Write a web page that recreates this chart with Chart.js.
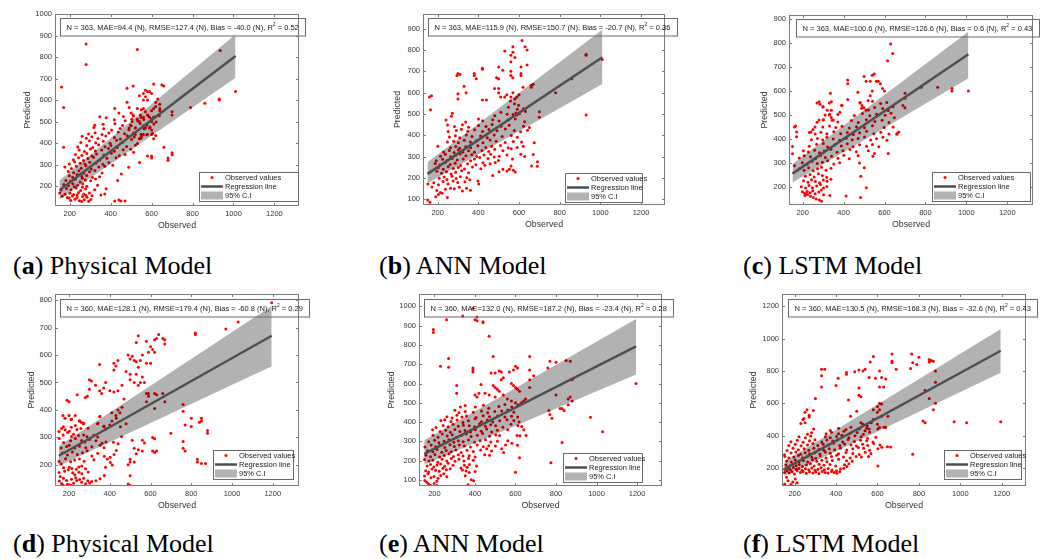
<!DOCTYPE html>
<html>
<head>
<meta charset="utf-8">
<script src="https://cdn.jsdelivr.net/npm/chart.js@4.4.1/dist/chart.umd.min.js"></script>
<style>
  body { margin: 0; background: #fff; width: 1046px; height: 559px; position: relative; overflow: hidden; }
  canvas { position: absolute; }
  .cap { position: absolute; font-family: "Liberation Serif", "Times New Roman", serif; font-size: 26px; line-height: 1; white-space: nowrap; color: #000; }
  .cap b { font-weight: bold; }
</style>
</head>
<body>
<div class="cap" style="left:13px;top:253px">(<b>a</b>) Physical Model</div>
<div class="cap" style="left:379px;top:253px">(<b>b</b>) ANN Model</div>
<div class="cap" style="left:743px;top:253px">(<b>c</b>) LSTM Model</div>
<div class="cap" style="left:13px;top:531px">(<b>d</b>) Physical Model</div>
<div class="cap" style="left:379px;top:531px">(<b>e</b>) ANN Model</div>
<div class="cap" style="left:743px;top:531px">(<b>f</b>) LSTM Model</div>
<script>
// ---- data ----
const xTicks = [200, 400, 600, 800, 1000, 1200];
const yTicksA = [200, 300, 400, 500, 600, 700, 800, 900, 1000];
const yTicksB = [100, 200, 300, 400, 500, 600, 700, 800, 900];
const yTicksC = [200, 300, 400, 500, 600, 700, 800, 900];
const yTicksD = [200, 300, 400, 500, 600, 700, 800];
const yTicksE = [100, 200, 300, 400, 500, 600, 700, 800, 900, 1000];
const yTicksF = [200, 400, 600, 800, 1000, 1200];

const statN = [363, 363, 363, 360, 360, 360];
const statMAE = [94.4, 115.9, 100.6, 128.1, 132.0, 130.5];
const statRMSE = [127.4, 150.7, 126.6, 179.4, 187.2, 168.3];
const statBias = [-40.0, -20.7, 0.6, -60.8, -23.4, -32.6];
const statR2 = [0.52, 0.36, 0.43, 0.29, 0.28, 0.43];

// regression line and 95% band ends
const regXTop = [150, 1010];
const regXBot = [150, 1195];
const regA = [180, 805], ciLoA = [138, 703], ciHiA = [226, 905];
const regB = [219, 766], ciLoB = [175, 641], ciHiB = [274, 895];
const regC = [257, 752], ciLoC = [220, 653], ciHiC = [297, 846];
const regD = [233, 670], ciLoD = [196, 559], ciHiD = [269, 778];
const regE = [235, 792], ciLoE = [180, 647], ciHiE = [306, 934];
const regF = [192, 925], ciLoF = [150, 788], ciHiF = [240, 1060];

// observed vs predicted
const ptsA = [[280,860],[280,765],[530,835],[160,660],[170,565],[170,380],[935,830],[1010,640],[930,605],[930,600],[860,585],[790,565],[700,545],[700,530],[660,380],[680,330],[680,320],[700,355],[700,345],[600,340],[600,330],[580,340],[470,130],[440,135],[450,130],[420,130],
[480,655],[510,665],[570,645],[580,640],[590,640],[610,675],[650,670],[660,665],[600,630],[570,615],[560,600],[580,600],[630,605],[620,590],[640,580],[640,560],[640,550],[620,570],[480,590],[490,565],[500,540],[510,530],[530,560],[550,555],[560,560],[570,545],[545,530],[530,510],[505,500],[500,480],[490,470],[520,470],[560,480],[570,470],[590,470],[600,460],[600,440],[610,420],[620,435],[580,440],[560,440],[550,430],[540,420],[520,440],[600,500],[610,520],[600,510],[590,520],[580,530],[560,520],[540,500],[600,550],[610,560],[440,540],[420,560],[540,620],[560,630],
[205,133],[226,138],[247,131],[271,136],[292,129],[303,137],[258,128],
[163,152],[188,147],[213,153],[236,146],[262,151],[284,148],[309,155],[198,144],[278,157],
[151,168],[177,162],[201,166],[219,161],[243,170],[268,163],[296,167],[352,158],[371,163],[236,158],
[158,181],[184,188],[206,183],[231,191],[253,179],[277,186],[322,183],[378,187],[262,194],
[171,207],[194,201],[215,211],[238,203],[264,209],[283,199],[336,204],[222,196],
[181,226],[203,222],[227,231],[251,219],[276,228],[302,224],[326,233],[262,236],
[198,248],[214,241],[236,253],[259,244],[283,249],[311,239],[346,243],[434,226],
[193,268],[219,262],[245,271],[268,259],[297,266],[323,272],[358,261],
[176,288],[208,281],[232,292],[256,283],[279,294],[305,279],[342,288],[371,292],[410,296],[452,256],
[198,302],[224,313],[251,306],[274,302],[298,311],[329,307],[362,301],[391,309],[488,287],[541,309],
[218,322],[243,331],[267,319],[289,328],[316,334],[347,321],[382,329],[426,331],
[228,347],[259,342],[284,351],[308,339],[331,349],[367,344],[403,352],[442,341],[470,346],[512,357],
[246,368],[272,361],[301,372],[325,363],[356,367],[389,374],[418,362],[461,369],[498,371],
[239,381],[283,388],[312,379],[341,392],[372,383],[401,388],[432,379],[478,384],[521,389],
[254,402],[296,411],[327,401],[364,408],[397,399],[429,413],[458,404],[502,416],[531,398],
[261,431],[281,422],[308,429],[338,421],[376,432],[418,426],[447,419],[481,434],[515,428],[548,422],
[292,442],[324,448],[358,439],[391,446],[437,451],[468,443],[512,447],[549,441],[576,438],[604,444],
[318,472],[366,466],[404,461],[446,468],[489,462],[521,471],[563,466],[592,473],
[322,482],[363,487],[421,489],[458,481],[497,484],[544,491],[577,483],[611,488],
[418,508],[471,503],[503,511],[532,502],[562,509],[598,506],[622,498],
[347,522],[378,518],[462,523],[511,526],[548,519],[583,528],[614,521],[638,527]];

const ptsB = [[615,845],[630,815],[570,815],[640,800],[530,795],[570,790],[560,775],[580,765],[560,745],[640,730],[500,720],[610,720],[420,715],[420,710],[520,705],[300,690],[310,685],[295,680],[380,690],[380,680],[560,700],[560,680],[570,670],[610,690],[610,680],[390,665],[490,670],[500,665],[330,630],[340,600],[300,595],[300,570],[620,625],[660,635],[660,625],[670,640],[160,580],[170,585],[165,520],[480,620],[500,620],[500,600],[510,580],[530,580],[540,590],[560,580],[570,600],[590,580],[600,590],[420,565],[440,565],[580,570],[780,600],[860,665],[930,775],[930,780],[1010,755],[930,495],[700,510],[700,485],[690,255],[675,365],[670,310],[590,495],[585,505],
[151,96],[162,86],[191,112],[248,108],[222,128],[204,122],
[172,158],[196,141],[213,132],[238,147],[263,151],[282,149],[307,156],[322,139],[361,142],[342,151],
[152,172],[181,177],[204,168],[227,183],[251,171],[276,186],[299,178],[334,182],[402,171],[398,186],
[208,198],[232,204],[246,193],[271,208],[291,197],[312,206],[343,201],[358,192],[471,211],
[196,231],[219,222],[243,229],[266,218],[289,227],[318,234],[352,224],[502,229],[541,232],[572,236],[582,228],
[203,248],[228,241],[252,252],[277,244],[301,249],[332,242],[371,251],[412,243],[432,259],[521,241],[553,241],[561,256],[662,256],
[188,268],[211,261],[237,272],[262,263],[286,269],[313,258],[347,266],[388,262],[423,271],[458,266],[483,272],[691,276],
[193,281],[224,288],[247,282],[271,291],[296,284],[326,289],[362,281],[381,289],[407,296],[448,291],[478,298],[499,282],[568,289],
[214,302],[238,311],[264,299],[289,306],[311,312],[339,304],[368,309],[392,301],[428,307],[461,311],[503,302],[541,308],[609,311],[628,301],
[229,322],[257,329],[281,319],[302,331],[324,322],[352,327],[381,321],[418,329],[451,324],[481,334],[521,328],[562,337],
[201,349],[263,341],[289,348],[308,339],[338,346],[362,342],[398,351],[437,343],[466,349],[509,352],[547,341],[591,343],[621,349],
[248,368],[279,372],[302,365],[331,377],[361,369],[392,374],[423,365],[458,378],[488,372],[532,366],[572,371],[613,369],
[258,392],[287,398],[309,389],[341,401],[369,394],[411,397],[444,389],[478,401],[517,394],[562,399],[592,391],
[252,418],[292,422],[317,428],[348,419],[382,426],[421,418],[452,427],[492,421],[533,429],[577,422],[608,417],[642,424],
[249,448],[283,441],[322,449],[352,438],[401,446],[438,441],[468,451],[512,443],[552,447],[622,442],[651,437],
[241,472],[268,489],[338,462],[401,476],[421,468],[471,473],[502,467],[547,472],[582,476],[628,463],
[272,503],[481,492],[511,508],[542,499],[571,497],[602,501],[632,512],[592,522],[622,524],[548,532],[578,548],[558,561],[598,541]];

const ptsC = [[630,795],[640,755],[615,725],[420,645],[420,630],[550,670],[540,665],[500,660],[510,640],[530,640],[560,640],[570,640],[580,630],[600,600],[590,610],[540,600],[470,595],[420,565],[335,590],[280,555],[285,545],[270,550],[330,550],[340,555],[300,535],[320,520],[310,500],[330,500],[340,490],[350,480],[300,480],[280,480],[270,470],[260,450],[250,440],[240,430],[390,540],[340,520],[160,450],[165,455],[170,430],[170,410],[150,370],[150,340],[160,290],[480,550],[490,540],[500,530],[510,520],[520,560],[530,580],[660,420],[670,430],[700,590],[700,570],[700,530],[690,540],[780,615],[860,615],[930,600],[930,610],[1010,600],
[211,166],[224,171],[238,163],[252,158],[266,152],[281,148],[292,143],[302,169],[333,166],[412,164],[483,158],
[198,182],[209,176],[222,183],[236,178],[249,186],[261,174],[278,181],[291,189],[218,171],
[193,203],[214,197],[231,208],[247,199],[268,206],[287,212],[302,198],[318,204],[511,199],
[204,228],[226,221],[243,232],[262,224],[282,219],[301,231],[319,226],[338,234],
[213,246],[236,254],[256,243],[277,257],[296,249],[317,242],[484,246],
[186,278],[207,271],[229,282],[251,269],[273,277],[292,284],[314,271],[338,279],
[198,302],[221,296],[246,308],[271,299],[296,304],[322,311],[352,297],[381,302],[501,281],[478,301],
[183,322],[207,331],[238,327],[262,319],[287,332],[311,324],[341,329],[372,321],[401,333],[428,319],[471,331],[543,329],
[203,352],[228,347],[258,354],[282,344],[305,351],[338,358],[368,346],[397,352],[431,357],[462,348],[521,352],[551,341],[618,341],
[232,371],[268,379],[301,382],[322,368],[357,377],[389,372],[418,381],[446,369],[478,377],[512,371],[541,378],[572,369],
[243,398],[272,403],[298,397],[318,408],[349,401],[381,396],[412,404],[442,398],[471,403],[502,409],[532,397],[561,402],[592,408],[612,396],
[233,428],[261,421],[289,429],[318,423],[352,431],[386,422],[418,428],[448,419],[478,427],[512,433],[548,422],[582,429],[622,421],[662,424],
[298,451],[331,455],[362,448],[392,454],[428,446],[463,452],[502,447],[541,456],[598,448],[642,451],
[301,481],[344,478],[372,471],[438,477],[472,469],[511,481],[553,473],[588,478],[622,469],
[332,503],[372,502],[452,498],[492,506],[528,497],[562,503],[603,499],[632,508],[648,489],
[298,533],[382,512],[488,528],[522,521],[552,531],[591,527],[618,519],[642,534],
[392,541],[481,552],[541,557],[581,548],[611,552]];

const ptsD = [[1195,790],[1030,720],[970,695],[820,680],[820,675],[640,675],[540,670],[530,645],[580,650],[620,655],[630,660],[660,660],[670,655],[670,640],[600,630],[610,620],[620,610],[590,610],[560,600],[490,600],[510,595],[500,585],[520,580],[530,575],[550,580],[540,555],[580,570],[600,570],[440,580],[420,570],[430,560],[350,565],[420,545],[480,540],[500,530],[530,530],[560,520],[570,500],[550,500],[540,490],[520,500],[500,510],[460,490],[440,470],[420,465],[400,470],[380,500],[370,480],[350,470],[360,460],[330,490],[300,510],[310,505],[300,475],[290,450],[280,445],[240,455],[190,435],[200,430],[170,380],[180,370],[200,380],[210,365],[230,380],[250,360],[260,355],[270,350],[350,375],[340,350],[370,340],[380,330],[400,345],[410,390],[430,380],[440,400],[450,390],[470,440],[460,410],[480,350],[580,460],[590,460],[580,430],[590,450],[620,460],[630,455],[660,460],[670,430],[620,405],[760,420],[760,395],[770,345],[800,370],[800,340],[850,370],[850,360],[840,355],[880,325],[880,315],[760,285],[760,260],[770,250],[700,315],[830,220],[830,210],[850,205],[870,205],[610,300],[620,295],[610,250],[620,245],[630,250],[560,290],[570,280],[560,250],[540,255],[530,240],[520,260],[510,290],[500,220],[500,210],[490,200],[500,160],[490,130],[500,125],[520,210],
[152,141],[163,132],[171,127],[192,129],[208,126],[222,133],[262,137],[281,131],[301,134],[238,143],
[157,158],[172,151],[188,143],[212,148],[233,153],[252,147],[272,151],[292,142],[311,139],[332,142],[352,149],[373,161],
[151,172],[178,177],[196,182],[218,171],[236,184],[249,173],[263,168],[281,186],[294,174],[228,164],
[162,203],[173,189],[201,191],[214,187],[248,192],[262,196],[379,191],[412,199],
[151,212],[183,222],[208,211],[227,218],[251,221],[274,213],[322,219],[388,221],[403,209],
[168,243],[192,236],[216,247],[241,238],[266,244],[289,251],[312,232],[341,242],[373,231],[402,228],[421,238],
[161,261],[188,267],[201,271],[228,261],[251,268],[282,262],[312,266],[352,271],[372,262],[432,252],
[152,296],[173,281],[208,288],[231,296],[262,289],[278,283],[301,292],[332,288],[362,279],[381,283],[418,282],[441,277],
[151,321],[171,309],[193,318],[212,303],[222,311],[246,307],[272,309],[288,302],[322,308],[341,301],[458,302],
[163,332],[181,328],[211,337],[239,329],[258,332],[293,333],[372,341],[452,339],[381,331],
[212,366],[252,361],[272,351],[342,351],[172,339],[231,343],
[201,322],[352,376],[411,360],[432,370]];

const ptsE = [[340,950],[390,990],[410,945],[400,930],[410,925],[440,920],[440,915],[260,930],[195,880],[195,865],[470,845],[270,730],[490,740],[230,690],[270,685],[670,740],[770,715],[800,710],[850,720],[870,715],[760,680],[600,690],[610,680],[390,680],[390,670],[390,660],[520,665],[530,660],[530,620],[540,630],[480,655],[500,655],[570,660],[590,670],[670,670],[690,640],[670,620],[580,600],[590,590],[600,580],[610,570],[620,560],[310,590],[310,550],[430,595],[490,590],[500,580],[510,570],[520,560],[400,540],[410,530],[420,550],[450,550],[470,540],[500,530],[540,540],[560,520],[580,510],[600,500],[620,490],[630,500],[640,510],[650,520],[670,580],[880,620],[800,540],[870,530],[860,520],[880,510],[860,490],[820,470],[830,470],[840,460],[765,460],[770,440],[780,420],[970,425],[1030,350],[1195,600],[830,295],[775,190],[600,140],[620,215],[610,280],
[153,98],[162,88],[171,79],[182,72],[199,82],[212,93],[366,76],[394,96],[212,72],
[151,121],[168,133],[183,112],[198,118],[218,109],[231,124],[246,132],[261,117],[382,101],[352,122],
[157,148],[172,142],[188,157],[206,151],[224,146],[242,161],[259,153],[278,158],[338,152],[356,147],[372,139],[401,144],[362,166],
[164,172],[181,181],[197,168],[213,178],[231,183],[251,171],[268,187],[292,176],[331,162],[348,176],[373,181],[408,172],
[151,206],[173,198],[192,203],[217,192],[238,208],[261,199],[283,211],[302,197],[321,207],[346,198],[368,211],[392,203],
[158,228],[181,221],[203,232],[226,219],[249,227],[272,236],[294,222],[318,231],[341,224],[372,226],[401,219],[448,231],[472,228],
[166,252],[192,246],[213,258],[237,244],[258,253],[283,247],[306,256],[332,243],[361,254],[392,248],[428,256],[458,262],[482,251],[542,242],
[153,271],[184,281],[206,272],[228,279],[251,268],[277,283],[298,274],[323,281],[348,276],[378,271],[411,282],[441,272],[468,278],[501,276],[532,262],[551,281],
[172,298],[201,306],[222,293],[248,301],[271,309],[296,296],[318,304],[342,298],[368,307],[398,296],[426,303],[452,309],[478,297],[511,301],[562,303],[582,291],[622,329],
[193,332],[218,322],[239,338],[263,328],[288,334],[309,321],[333,331],[358,339],[381,326],[412,332],[438,341],[472,327],[503,333],[522,331],[608,331],[652,331],
[191,361],[228,352],[256,358],[279,348],[301,362],[326,351],[351,357],[378,349],[402,361],[431,353],[458,364],[483,349],[511,358],[562,361],[641,361],
[208,372],[243,383],[268,376],[292,389],[318,378],[343,384],[372,381],[398,376],[423,391],[452,378],[478,386],[502,381],[538,374],[578,389],[612,382],[631,377],
[232,408],[251,412],[282,403],[312,411],[341,398],[368,407],[401,417],[432,402],[461,411],[488,401],[522,407],[558,412],[592,409],[618,401],
[262,428],[287,422],[311,436],[336,426],[358,432],[406,424],[441,433],[472,428],[512,432],[548,426],[581,431],[611,427],
[301,462],[321,449],[352,455],[392,451],[432,458],[463,449],[498,455],[532,458],[562,463],[592,451],
[328,478],[352,486],[402,479],[442,488],[468,472],[518,481],[548,492],[582,478],[612,489]];

const ptsF = [[670,905],[765,905],[580,890],[800,885],[565,855],[670,860],[670,850],[770,850],[790,840],[850,870],[860,865],[870,860],[850,855],[760,815],[330,810],[345,810],[490,795],[510,805],[540,810],[530,800],[450,790],[330,770],[450,780],[610,800],[690,810],[560,760],[590,755],[620,760],[640,750],[410,755],[610,700],[630,700],[400,710],[330,700],[510,695],[510,650],[520,640],[460,620],[300,630],[260,560],[290,555],[250,545],[270,525],[270,515],[240,500],[245,505],[230,475],[250,480],[610,600],[620,595],[600,580],[610,560],[580,560],[600,545],[620,520],[650,520],[640,450],[610,450],[600,470],[580,500],[570,480],[520,480],[530,470],[500,550],[470,520],[560,440],[550,460],[540,430],[770,285],[820,490],[830,480],[970,485],[1030,480],[1195,485],[830,680],[850,630],[870,560],[880,600],[880,730],[880,800],
[152,101],[168,121],[182,98],[191,112],[203,132],[212,108],[161,142],
[151,172],[163,181],[174,168],[188,176],[199,163],[212,183],[228,171],[241,178],[256,167],[272,176],[288,169],[302,174],[318,166],[333,177],[348,171],[362,168],[378,178],[391,172],[404,167],[418,176],
[152,192],[168,198],[179,188],[194,203],[208,191],[221,197],[236,186],[252,194],[268,189],[283,199],[298,186],[312,192],[328,201],[343,188],[362,196],[381,187],[402,182],[421,193],[437,198],[452,208],
[158,218],[176,211],[191,223],[207,214],[222,221],[238,209],[257,218],[276,226],[294,212],[318,222],[342,216],[371,221],[398,211],[441,219],[462,226],[602,211],
[162,243],[184,236],[203,249],[221,238],[242,246],[263,237],[286,251],[307,241],[331,248],[356,238],[382,246],[412,253],[451,244],[478,241],
[153,271],[172,262],[196,268],[218,276],[239,263],[261,272],[283,266],[302,259],[324,274],[352,262],[378,271],[403,278],[436,267],[468,262],[497,271],[522,268],[557,271],
[151,281],[183,292],[206,298],[229,284],[251,293],[272,287],[298,294],[322,286],[348,298],[372,291],[412,288],[448,296],[481,289],[512,283],[541,297],[568,289],
[163,308],[192,321],[218,313],[246,318],[268,309],[293,322],[317,314],[341,309],[367,318],[393,312],[421,322],[452,311],[481,318],[508,326],[533,321],[562,309],[602,318],[621,328],[648,331],[663,329],
[172,338],[203,346],[231,337],[262,342],[288,351],[312,338],[338,346],[362,341],[388,352],[418,338],[441,348],[472,341],[498,336],[528,347],[553,339],[582,351],[612,341],
[182,362],[213,371],[241,358],[272,368],[298,374],[331,361],[356,372],[384,366],[408,374],[432,361],[458,376],[488,363],[518,371],[548,368],[578,361],
[221,392],[252,386],[278,398],[348,393],[372,386],[402,394],[428,402],[462,387],[491,399],[521,392],[552,384],[592,389],
[262,408],[282,418],[352,412],[378,421],[412,411],[438,426],[468,414],[502,419],[532,408],[562,421],
[292,441],[372,432],[412,446],[448,438],[472,452],[512,441],[548,446],[602,441],[631,452]];

// ---- panel setup ----
const panels = [
  { pts: ptsA, yTicks: yTicksA, regX: regXTop, reg: regA, lo: ciLoA, hi: ciHiA, xMin: 128, xMax: 1320, yMin: 107, yMax: 1000 },
  { pts: ptsB, yTicks: yTicksB, regX: regXTop, reg: regB, lo: ciLoB, hi: ciHiB, xMin: 128, xMax: 1318, yMin: 73, yMax: 969 },
  { pts: ptsC, yTicks: yTicksC, regX: regXTop, reg: regC, lo: ciLoC, hi: ciHiC, xMin: 133, xMax: 1326, yMin: 127, yMax: 915 },
  { pts: ptsD, yTicks: yTicksD, regX: regXBot, reg: regD, lo: ciLoD, hi: ciHiD, xMin: 131, xMax: 1329, yMin: 123, yMax: 822 },
  { pts: ptsE, yTicks: yTicksE, regX: regXBot, reg: regE, lo: ciLoE, hi: ciHiE, xMin: 124, xMax: 1323, yMin: 69, yMax: 1064 },
  { pts: ptsF, yTicks: yTicksF, regX: regXBot, reg: regF, lo: ciLoF, hi: ciHiF, xMin: 139, xMax: 1317, yMin: 88, yMax: 1276 },
];

// plot boxes in page pixels, legend / stats box placement
const layout = [
  { left: 55, top: 14, right: 299, bottom: 206, yTitle: 27, boxDx: 5, boxDy: 4, legDr: 1, legDb: 5, legW: 99 },
  { left: 423, top: 14, right: 665, bottom: 205, yTitle: 25, boxDx: 5, boxDy: 4, legDr: 23, legDb: 3, legW: 77 },
  { left: 789, top: 15, right: 1033, bottom: 205, yTitle: 24, boxDx: 7, boxDy: 4, legDr: 3, legDb: 4, legW: 98 },
  { left: 55, top: 294, right: 299, bottom: 486, yTitle: 23, boxDx: 5, boxDy: 5, legDr: 6, legDb: 7, legW: 80 },
  { left: 419, top: 294, right: 662, bottom: 486, yTitle: 27, boxDx: 5, boxDy: 5, legDr: 20, legDb: 4, legW: 79 },
  { left: 782, top: 294, right: 1026, bottom: 486, yTitle: 28, boxDx: 6, boxDy: 5, legDr: 5, legDb: 7, legW: 77 },
];

const FONT = '"Liberation Sans", Arial, Helvetica, sans-serif';
const TXT = '#333333';
const EDGE = '#7c7c7c';
const REG_COLOR = '#4f4f4f';
const CI_FILL = 'rgba(0,0,0,0.3)';
const DOT = '#ff0000';
const Y_AXIS_W = 55, X_AXIS_H = 34, PAD_TOP = 14, PAD_RIGHT = 22;

function deco(i) {
  const L = layout[i];
  return {
    id: 'deco' + i,
    afterDatasetsDraw(chart) {
      const { ctx, chartArea: a, scales: { x, y } } = chart;
      ctx.save();
      // axes box
      ctx.strokeStyle = EDGE;
      ctx.lineWidth = 1;
      ctx.strokeRect(a.left + 0.5, a.top + 0.5, a.right - a.left - 1, a.bottom - a.top - 1);
      // inward ticks on all four sides
      ctx.beginPath();
      xTicks.forEach(v => {
        const px = Math.round(x.getPixelForValue(v)) + 0.5;
        ctx.moveTo(px, a.bottom); ctx.lineTo(px, a.bottom - 3);
        ctx.moveTo(px, a.top); ctx.lineTo(px, a.top + 3);
      });
      panels[i].yTicks.forEach(v => {
        const py = Math.round(y.getPixelForValue(v)) + 0.5;
        ctx.moveTo(a.left, py); ctx.lineTo(a.left + 3, py);
        ctx.moveTo(a.right, py); ctx.lineTo(a.right - 3, py);
      });
      ctx.stroke();

      // stats box
      const pre = `N = ${statN[i]}, MAE=${statMAE[i].toFixed(1)} (N), RMSE=${statRMSE[i].toFixed(1)} (N), Bias = ${statBias[i].toFixed(1)} (N), R`;
      const post = ` = ${statR2[i].toFixed(2)}`;
      ctx.font = `7.5px ${FONT}`;
      const w1 = ctx.measureText(pre).width;
      const w3 = ctx.measureText(post).width;
      ctx.font = `5px ${FONT}`;
      const w2 = ctx.measureText('2').width;
      const bx = a.left + L.boxDx, by = a.top + L.boxDy, bw = w1 + w2 + w3 + 13, bh = 17.5;
      ctx.strokeStyle = '#6a6a6a';
      ctx.strokeRect(Math.round(bx) + 0.5, Math.round(by) + 0.5, Math.round(bw), bh);
      ctx.fillStyle = '#1a1a1a';
      ctx.textBaseline = 'middle';
      ctx.textAlign = 'left';
      const ty = by + bh / 2 + 1;
      ctx.font = `7.5px ${FONT}`;
      ctx.fillText(pre, bx + 6.5, ty);
      ctx.font = `5px ${FONT}`;
      ctx.fillText('2', bx + 6.5 + w1, ty - 3);
      ctx.font = `7.5px ${FONT}`;
      ctx.fillText(post, bx + 6.5 + w1 + w2, ty);

      // legend
      const lw = L.legW, lh = 29;
      const lx = a.right - L.legDr - lw, ly = a.bottom - L.legDb - lh;
      ctx.fillStyle = '#ffffff';
      ctx.fillRect(lx, ly, lw, lh);
      ctx.strokeStyle = '#6a6a6a';
      ctx.lineWidth = 1;
      ctx.strokeRect(Math.round(lx) + 0.5, Math.round(ly) + 0.5, lw, lh);
      const rows = [ly + 5.5, ly + 14.5, ly + 23.5];
      ctx.fillStyle = DOT;
      ctx.beginPath();
      ctx.arc(lx + 13, rows[0], 1.5, 0, Math.PI * 2);
      ctx.fill();
      ctx.strokeStyle = REG_COLOR;
      ctx.lineWidth = 2.5;
      ctx.beginPath();
      ctx.moveTo(lx + 2, rows[1]); ctx.lineTo(lx + 24, rows[1]);
      ctx.stroke();
      ctx.fillStyle = '#b3b3b3';
      ctx.fillRect(lx + 2, rows[2] - 4, 22, 8);
      ctx.fillStyle = '#1a1a1a';
      ctx.font = `7.5px ${FONT}`;
      ['Observed values', 'Regression line', '95% C.I'].forEach((t, k) => ctx.fillText(t, lx + 26, rows[k] + 0.5));
      ctx.restore();
    }
  };
}

panels.forEach((p, i) => {
  const L = layout[i];
  const cv = document.createElement('canvas');
  const cw = Y_AXIS_W + (L.right - L.left) + PAD_RIGHT;
  const ch = PAD_TOP + (L.bottom - L.top) + X_AXIS_H;
  cv.width = cw; cv.height = ch;
  cv.style.left = (L.left - Y_AXIS_W) + 'px';
  cv.style.top = (L.top - PAD_TOP) + 'px';
  cv.style.width = cw + 'px'; cv.style.height = ch + 'px';
  document.body.appendChild(cv);

  const line = ys => p.regX.map((xv, k) => ({ x: xv, y: ys[k] }));
  new Chart(cv, {
    type: 'scatter',
    data: {
      datasets: [
        { type: 'line', data: line(p.hi), fill: '+1', backgroundColor: CI_FILL, borderColor: 'rgba(0,0,0,0)', pointRadius: 0, order: 2 },
        { type: 'line', data: line(p.lo), fill: false, borderColor: 'rgba(0,0,0,0)', pointRadius: 0, order: 2 },
        { type: 'line', data: line(p.reg), fill: false, borderColor: REG_COLOR, borderWidth: 2.5, pointRadius: 0, order: 1 },
        { data: p.pts.map(([xv, yv]) => ({ x: xv, y: yv })), backgroundColor: DOT, borderWidth: 0, pointRadius: 1.5, order: 3 },
      ]
    },
    options: {
      responsive: false,
      animation: false,
      devicePixelRatio: 1,
      layout: { padding: { top: PAD_TOP, right: PAD_RIGHT, left: 0, bottom: 0 } },
      plugins: { legend: { display: false }, tooltip: { enabled: false } },
      scales: {
        x: {
          type: 'linear', min: p.xMin, max: p.xMax,
          afterBuildTicks: s => { s.ticks = xTicks.map(v => ({ value: v })); },
          afterFit: s => { s.height = X_AXIS_H; },
          grid: { display: false, drawTicks: false },
          border: { display: false },
          ticks: { font: { family: FONT, size: 7.5 }, color: TXT, padding: 3, maxRotation: 0, autoSkip: false, callback: v => String(v) },
          title: { display: true, text: 'Observed', font: { family: FONT, size: 8.8 }, color: TXT, padding: { top: 0, bottom: 9 } }
        },
        y: {
          type: 'linear', min: p.yMin, max: p.yMax,
          afterBuildTicks: s => { s.ticks = p.yTicks.map(v => ({ value: v })); },
          afterFit: s => { s.width = Y_AXIS_W; },
          grid: { display: false, drawTicks: false },
          border: { display: false },
          ticks: { font: { family: FONT, size: 7.5 }, color: TXT, padding: 3, autoSkip: false, callback: v => String(v) },
          title: { display: true, text: 'Predicted', font: { family: FONT, size: 8.8 }, color: TXT, padding: { top: Y_AXIS_W - L.yTitle - 5.3, bottom: 0 } }
        }
      }
    },
    plugins: [deco(i)]
  });
});
</script>
</body>
</html>
